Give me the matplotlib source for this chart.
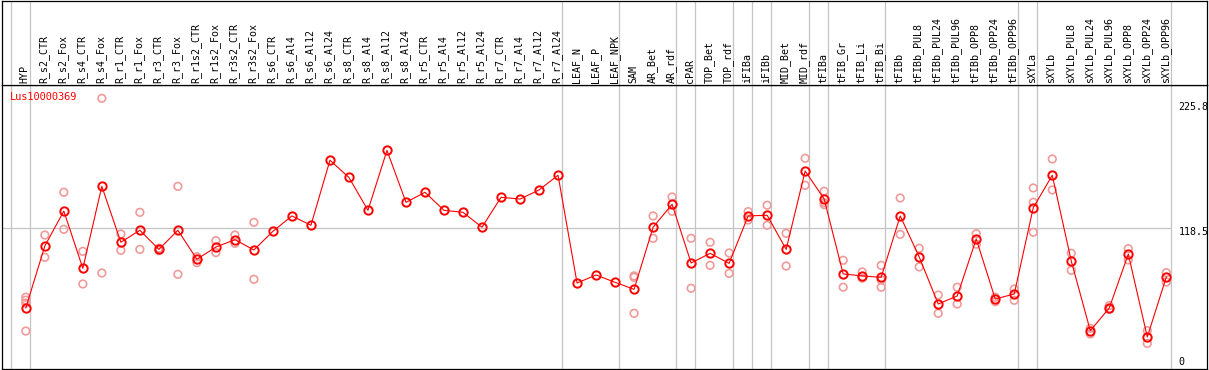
import numpy as np
import matplotlib
matplotlib.use("Agg")
from matplotlib import pyplot as plt
from matplotlib import transforms

gene = "Lus10000369"

samples = [
    "HYP", "R_s2_CTR", "R_s2_Fox", "R_s4_CTR", "R_s4_Fox", "R_r1_CTR", "R_r1_Fox",
    "R_r3_CTR", "R_r3_Fox", "R_r1s2_CTR", "R_r1s2_Fox", "R_r3s2_CTR", "R_r3s2_Fox",
    "R_s6_CTR", "R_s6_Al4", "R_s6_Al12", "R_s6_Al24", "R_s8_CTR", "R_s8_Al4",
    "R_s8_Al12", "R_s8_Al24", "R_r5_CTR", "R_r5_Al4", "R_r5_Al12", "R_r5_Al24",
    "R_r7_CTR", "R_r7_Al4", "R_r7_Al12", "R_r7_Al24", "LEAF_N", "LEAF_P", "LEAF_NPK",
    "SAM", "AR_Bet", "AR_rdf", "cPAR", "TOP_Bet", "TOP_rdf", "iFIBa", "iFIBb",
    "MID_Bet", "MID_rdf", "tFIBa", "tFIB_Gr", "tFIB_Li", "tFIB_Bi", "tFIBb",
    "tFIBb_PUL8", "tFIBb_PUL24", "tFIBb_PUL96", "tFIBb_OPP8", "tFIBb_OPP24",
    "tFIBb_OPP96", "sXYLa", "sXYLb", "sXYLb_PUL8", "sXYLb_PUL24", "sXYLb_PUL96",
    "sXYLb_OPP8", "sXYLb_OPP24", "sXYLb_OPP96",
]

means = [
    49.8, 103.0, 133.0, 83.8, 154.2, 106.2, 116.5,
    100.1, 116.5, 91.6, 102.1, 108.4, 99.6,
    115.6, 128.8, 120.8, 176.6, 161.8, 133.6,
    185.1, 140.5, 149.1, 133.6, 131.9, 119.1,
    144.8, 143.3, 151.1, 163.7, 71.2, 78.1, 71.8,
    65.8, 119.1, 138.8, 88.4, 96.7, 88.1, 128.8, 129.4,
    100.1, 167.4, 143.3, 79.0, 77.3, 76.1, 128.8,
    93.6, 53.2, 60.1, 109.0, 57.5,
    61.8, 135.9, 163.7, 90.1, 30.3, 49.8,
    96.1, 24.9, 76.4,
]

replicates = [
    [59.0, 56.5, 54.0, 30.0], [112.4, 93.3], [149.1, 117.3], [98.4, 70.4], [229.8, 79.8],
    [113.3, 99.3], [131.9, 100.1], [99.0, 101.0], [154.2, 78.7], [93.8, 88.7],
    [107.6, 97.3], [112.4, 105.3], [123.3, 74.4],
    [], [], [], [], [], [], [], [], [], [], [], [], [], [], [], [],
    [], [], [],
    [77.3, 76.1, 45.2], [128.8, 109.6], [145.1, 132.8], [109.6, 66.7], [106.2, 86.4],
    [97.0, 79.5], [132.5, 125.3], [138.0, 120.8], [113.9, 85.8], [178.3, 155.1],
    [150.0, 140.2, 138.5], [90.7, 67.6], [80.7, 75.3], [86.4, 73.8, 67.6], [144.2, 113.0],
    [101.0, 85.0], [60.9, 45.2], [67.6, 53.2], [113.6, 104.5], [59.0, 55.2],
    [66.1, 56.4], [152.8, 140.5, 114.8], [177.7, 151.1], [96.7, 82.1], [32.3, 27.5],
    [51.8, 48.6], [100.7, 91.0], [30.3, 19.4], [80.1, 72.1],
]

# last sample index of each group (a grey separator follows it)
group_ends = [-1, 0, 28, 31, 34, 35, 37, 38, 39, 41, 42, 45, 52, 53, 60]
y_ticks = [225.8, 118.5, 0]
y_tick_labels = ["225.8", "118.5", "0"]

W, H = 1209, 370
fig = plt.figure(figsize=(W / 100, H / 100), dpi=100)
fig.patch.set_facecolor("white")

x_lo, x_hi = -1.279, 62.14
head_px = 85
ax = fig.add_axes([1.5 / W, 1 / H, 1205.5 / W, (369 - head_px) / H])
axh = fig.add_axes([1.5 / W, (H - head_px) / H, 1205.5 / W, (head_px - 0.5) / H])

for a in (ax, axh):
    a.set_xlim(x_lo, x_hi)
    a.set_xticks([])
    a.set_yticks([])
    for s in a.spines.values():
        s.set_color("black")
        s.set_linewidth(0.9)
    for g in group_ends:
        a.axvline(g + 0.22, color="#c4c4c4", lw=0.9, zorder=1)

ax.set_ylim(-2.6, 241.2)
axh.set_ylim(0, head_px)

x = np.arange(len(samples))
mono = "DejaVu Sans Mono"

for i, name in enumerate(samples):
    axh.text(i - 0.05, 2, name, rotation=90, ha="center", va="bottom",
             fontsize=7.2, family=mono, color="black")

ax.hlines(118.5, x_lo, group_ends[-1] + 0.22, color="#c4c4c4", lw=0.9, zorder=1)

rx = [i for i, r in enumerate(replicates) for _ in r]
ry = [v for r in replicates for v in r]
ax.scatter(rx, ry, s=30, facecolors="none", edgecolors="#f09a9a",
           linewidths=1.2, zorder=2, clip_on=False)
ax.plot(x, means, color="red", lw=0.8, marker="o", ms=6, mfc="none",
        mec="red", mew=1.4, zorder=3)

tr = transforms.blended_transform_factory(ax.transAxes, ax.transData)
offsets = [-3, -3, 3]
for v, lab, off in zip(y_ticks, y_tick_labels, offsets):
    ax.annotate(lab, xy=(0.9765, v), xycoords=tr, xytext=(0, off),
                textcoords="offset points", ha="left", va="center",
                fontsize=7.2, family=mono, color="black", annotation_clip=False)

ax.text(0.0066, 0.958, gene, transform=ax.transAxes, ha="left", va="center",
        fontsize=7.4, family=mono, color="red")

fig.savefig("out.png", dpi=100)
